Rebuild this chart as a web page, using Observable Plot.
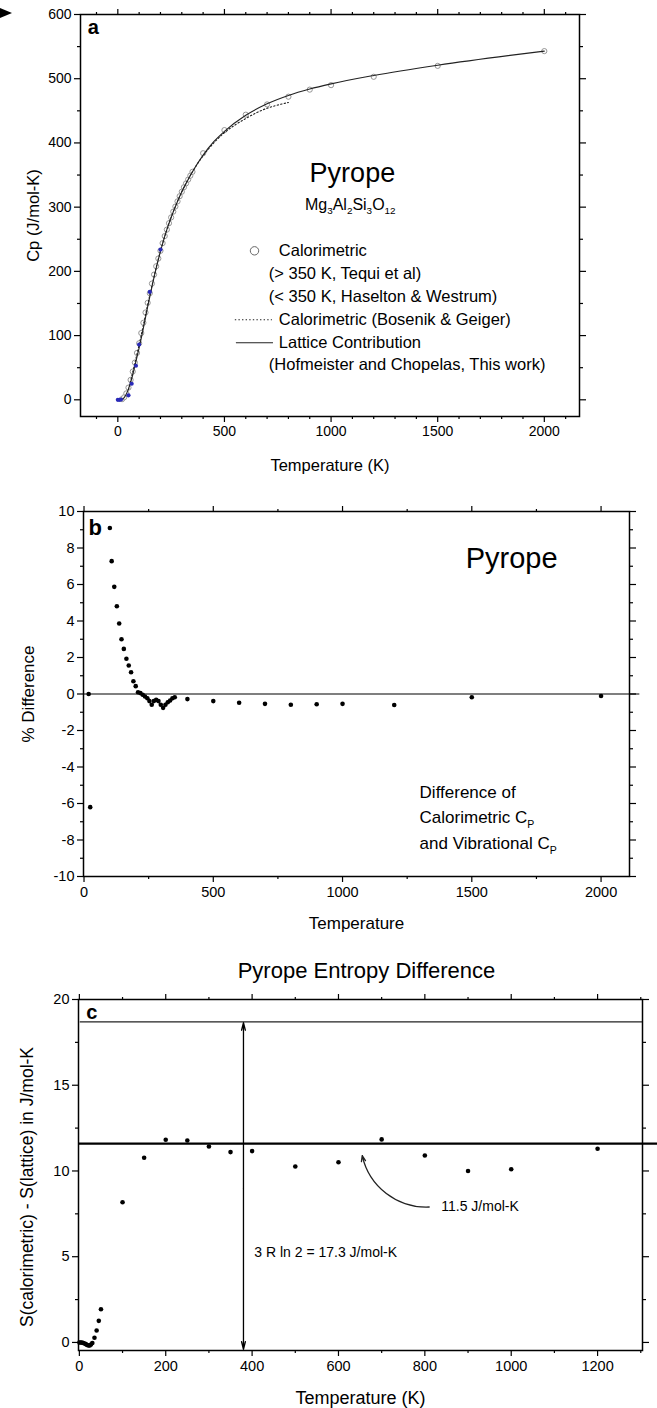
<!DOCTYPE html>
<html><head><meta charset="utf-8">
<script src="https://cdn.jsdelivr.net/npm/d3@7"></script>
<script src="https://cdn.jsdelivr.net/npm/@observablehq/plot@0.6"></script>
<style>
body{margin:0;background:#fff;}
#wrap{position:relative;width:657px;height:1408px;overflow:hidden;font-family:"Liberation Sans",Arial,Helvetica,sans-serif;}
.panel{position:absolute;left:0;}
#pointer{position:absolute;left:0;top:0;}
</style></head><body>
<div id="wrap">
<svg id="pointer" width="20" height="24"><polygon points="0,8 12,13 0,18" fill="#000"/></svg>
<div class="panel" id="pa" style="top:0px"></div>
<div class="panel" id="pb" style="top:480px"></div>
<div class="panel" id="pc" style="top:940px"></div>
</div>
<script>
// ---------- Panel a: heat capacity ----------
const latticeT  = [0, 10, 20, 30, 40, 50, 60, 70, 80, 90, 100, 120, 140, 160, 180, 200, 225, 250, 275, 300, 325, 350, 400, 450, 500, 600, 700, 800, 900, 1000, 1200, 1500, 2000];
const latticeCp = [0, 0.2, 1, 3.5, 9, 17, 27, 39, 53, 67, 81, 112, 145, 176, 205, 231, 260, 284, 305, 324, 340, 355, 381, 402, 418, 443, 461, 474, 484, 492, 505, 521, 543];
const bosenikT  = [50, 100, 150, 200, 250, 300, 350, 400, 450, 500, 550, 600, 650, 700, 750, 800];
const bosenikCp = [16, 86, 163, 232, 284, 324, 355, 380, 400, 416, 428, 438, 447, 454, 459, 463];
const calT  = [20, 30, 40, 50, 60, 70, 80, 90, 100, 110, 120, 130, 140, 150, 160, 170, 180, 190, 200, 210, 220, 230, 240, 250, 260, 270, 280, 290, 300, 310, 320, 330, 340, 350, 400, 500, 600, 700, 800, 900, 1000, 1200, 1500, 2000];
const calCp = [1, 4, 10, 19, 31, 44, 58, 73, 88, 104, 120, 136, 151, 166, 181, 195, 208, 220, 232, 244, 255, 265, 275, 284, 293, 301, 309, 317, 324, 331, 337, 343, 349, 355, 384, 420, 444, 460, 472, 483, 490, 503, 520, 543];
const blueT  = [0, 8, 15, 50, 65, 85, 100, 150, 200];
const blueCp = [0, 0, 0.5, 7, 25, 53, 86, 168, 234];
const aXMajor = [0, 500, 1000, 1500, 2000];
const aYMajor = [0, 100, 200, 300, 400, 500, 600];

// ---------- Panel b: % difference ----------
const diffT = [18, 24, 100, 107, 117, 127, 136, 145, 154, 164, 173, 182, 191, 200, 209, 218, 227, 236, 245, 253, 262, 270, 279, 288, 297, 306, 315, 324, 333, 342, 351, 400, 500, 600, 700, 800, 900, 1000, 1200, 1500, 2000];
const diffPct = [0, -6.2, 9.1, 7.28, 5.87, 4.81, 3.86, 3.0, 2.47, 1.93, 1.56, 1.19, 0.70, 0.43, 0.10, 0.05, -0.04, -0.14, -0.23, -0.39, -0.59, -0.39, -0.32, -0.39, -0.59, -0.76, -0.59, -0.45, -0.36, -0.23, -0.18, -0.28, -0.39, -0.48, -0.54, -0.59, -0.56, -0.54, -0.6, -0.18, -0.11];
const bXMajor = [0, 500, 1000, 1500, 2000];
const bYMajor = [-10, -8, -6, -4, -2, 0, 2, 4, 6, 8, 10];

// ---------- Panel c: entropy difference ----------
const entT = [0, 3, 6, 9, 12, 15, 18, 21, 24, 27, 30, 35, 40, 45, 50, 100, 150, 200, 250, 300, 350, 400, 500, 600, 700, 800, 900, 1000, 1200];
const entS = [0, 0, -0.01, -0.03, -0.06, -0.1, -0.15, -0.18, -0.18, -0.12, -0.03, 0.27, 0.7, 1.26, 1.94, 8.18, 10.77, 11.82, 11.78, 11.43, 11.1, 11.16, 10.26, 10.51, 11.84, 10.9, 10.0, 10.1, 11.3];
const entMean = 11.6;
const entTop = 18.7;
const cXMajor = [0, 200, 400, 600, 800, 1000, 1200];
const cYMajor = [0, 5, 10, 15, 20];

const FONT = '"Liberation Sans", Arial, Helvetica, sans-serif';
const blank = () => "";
const plain = d => String(d);

function axes(xMajor, xMinor, yMajor, yMinor, fs) {
  const common = {label: null, strokeWidth: 1.2};
  return [
    Plot.axisX({...common, ticks: xMajor, anchor: "bottom", tickSize: 6, tickPadding: 4, fontSize: fs, tickFormat: plain}),
    Plot.axisX({...common, ticks: xMinor, anchor: "bottom", tickSize: 3, tickFormat: blank}),
    Plot.axisX({...common, ticks: xMajor, anchor: "top", tickSize: 6, tickFormat: blank}),
    Plot.axisX({...common, ticks: xMinor, anchor: "top", tickSize: 3, tickFormat: blank}),
    Plot.axisY({...common, ticks: yMajor, anchor: "left", tickSize: 6, tickPadding: 3, fontSize: fs, tickFormat: plain}),
    Plot.axisY({...common, ticks: yMinor, anchor: "left", tickSize: 3, tickFormat: blank}),
    Plot.axisY({...common, ticks: yMajor, anchor: "right", tickSize: 6, tickFormat: blank}),
    Plot.axisY({...common, ticks: yMinor, anchor: "right", tickSize: 3, tickFormat: blank})
  ];
}

function applySubs(svg) {
  for (const t of svg.querySelectorAll("text")) {
    const s = t.textContent;
    if (!s.includes("_{")) continue;
    const holder = t.closest("[font-size]");
    const base = holder ? parseFloat(holder.getAttribute("font-size")) : 14;
    const shift = base * 0.3;
    const parts = s.split(/_\{([^}]*)\}/);
    t.textContent = "";
    let shifted = false;
    parts.forEach((p, i) => {
      if (p === "") return;
      const ts = document.createElementNS("http://www.w3.org/2000/svg", "tspan");
      ts.textContent = p;
      if (i % 2 === 1) { ts.setAttribute("font-size", base * 0.62); ts.setAttribute("dy", shift); shifted = true; }
      else if (shifted) { ts.setAttribute("dy", -shift); shifted = false; }
      t.appendChild(ts);
    });
  }
}

const zip = (xs, ys) => xs.map((x, i) => ({x, y: ys[i]}));
const xLabel = (t, dy, fs) => Plot.text([t], {frameAnchor: "bottom", dy, fontSize: fs, textAnchor: "middle", lineAnchor: "middle"});
const yLabel = (t, dx, dy, fs) => Plot.text([t], {frameAnchor: "left", dx, dy, rotate: -90, fontSize: fs, textAnchor: "middle", lineAnchor: "middle"});

// ================= Panel a =================
const aMinorX = d3.range(-100, 2200, 100).filter(v => v % 500 !== 0);
const aMinorY = d3.range(50, 600, 100);
const legendRows = [
  {x: 755, y: 232, t: "Calorimetric"},
  {x: 708, y: 196.4, t: "(> 350 K, Tequi et al)"},
  {x: 708, y: 160.5, t: "(< 350 K, Haselton & Westrum)"},
  {x: 755, y: 124.7, t: "Calorimetric (Bosenik & Geiger)"},
  {x: 755, y: 88.9, t: "Lattice Contribution"},
  {x: 708, y: 54.6, t: "(Hofmeister and Chopelas, This work)"}
];
const plotA = Plot.plot({
  width: 657, height: 480,
  marginLeft: 80, marginRight: 78, marginTop: 14, marginBottom: 64,
  x: {domain: [-175, 2165]}, y: {domain: [-26, 600]},
  style: {fontFamily: FONT, fontSize: "14px", color: "#000", background: "transparent", overflow: "visible"},
  marks: [
    ...axes(aXMajor, aMinorX, aYMajor, aMinorY, 14),
    Plot.frame({stroke: "#000", strokeWidth: 1.5}),
    Plot.dot(zip(calT, calCp), {x: "x", y: "y", r: 2.6, stroke: "#8a8a8a", fill: "white", strokeWidth: 0.9}),
    Plot.line(zip(bosenikT, bosenikCp), {x: "x", y: "y", stroke: "#222", strokeWidth: 1.1, strokeDasharray: "1.4,2.2", curve: "monotone-x"}),
    Plot.line(zip(latticeT, latticeCp), {x: "x", y: "y", stroke: "#222", strokeWidth: 1.1, curve: "monotone-x"}),
    Plot.dot(zip(blueT, blueCp), {x: "x", y: "y", r: 2.1, fill: "#2a2ab8", stroke: "none"}),
    Plot.text(["a"], {x: -141, y: 580, textAnchor: "start", fontSize: 20, fontWeight: "bold"}),
    Plot.text(["Pyrope"], {x: 1100, y: 352, fontSize: 27}),
    Plot.text(["Mg_{3}Al_{2}Si_{3}O_{12}"], {x: 1090, y: 304, fontSize: 16}),
    Plot.dot([{x: 641, y: 232}], {x: "x", y: "y", r: 4.2, stroke: "#666", fill: "none", strokeWidth: 1}),
    Plot.ruleY([124.7], {x1: 551, x2: 725, stroke: "#222", strokeWidth: 1.1, strokeDasharray: "1.4,2.2"}),
    Plot.ruleY([88.9], {x1: 556, x2: 730, stroke: "#222", strokeWidth: 1.1}),
    Plot.text(legendRows, {x: "x", y: "y", text: "t", textAnchor: "start", fontSize: 16.5}),
    xLabel("Temperature (K)", 49, 16.5),
    yLabel("Cp (J/mol-K)", -47, 0, 16.5)
  ]
});
applySubs(plotA);
document.getElementById("pa").appendChild(plotA);

// ================= Panel b =================
const bMinorX = [250, 750, 1250, 1750];
const bMinorY = d3.range(-9, 10, 2);
const bNote = [
  {x: 1298, y: -5.38, t: "Difference of"},
  {x: 1298, y: -6.75, t: "Calorimetric C_{P}"},
  {x: 1298, y: -8.2, t: "and Vibrational C_{P}"}
];
const plotB = Plot.plot({
  width: 657, height: 460,
  marginLeft: 83, marginRight: 28, marginTop: 31, marginBottom: 64,
  x: {domain: [-2, 2110]}, y: {domain: [-10, 10]},
  style: {fontFamily: FONT, fontSize: "14.5px", color: "#000", background: "transparent", overflow: "visible"},
  marks: [
    ...axes(bXMajor, bMinorX, bYMajor, bMinorY, 14.5),
    Plot.frame({stroke: "#000", strokeWidth: 1.5}),
    Plot.ruleY([0], {x1: -2, x2: 2150, stroke: "#000", strokeWidth: 1.2}),
    Plot.dot(zip(diffT, diffPct), {x: "x", y: "y", r: 2.3, fill: "#000", stroke: "none"}),
    Plot.text(["b"], {x: 17, y: 9.12, textAnchor: "start", fontSize: 22, fontWeight: "bold"}),
    Plot.text(["Pyrope"], {x: 1654, y: 7.42, fontSize: 29}),
    Plot.text(bNote, {x: "x", y: "y", text: "t", textAnchor: "start", fontSize: 17}),
    xLabel("Temperature", 47, 17),
    yLabel("% Difference", -55, 0, 17)
  ]
});
applySubs(plotB);
document.getElementById("pb").appendChild(plotB);

// ================= Panel c =================
const cMinorX = d3.range(100, 1400, 200);
const cMinorY = [2.5, 7.5, 12.5, 17.5];
const plotC = Plot.plot({
  width: 657, height: 468,
  marginLeft: 78, marginRight: 15, marginTop: 59, marginBottom: 58,
  x: {domain: [-2, 1304]}, y: {domain: [-0.47, 20]},
  style: {fontFamily: FONT, fontSize: "14.5px", color: "#000", background: "transparent", overflow: "visible"},
  marks: [
    ...axes(cXMajor, cMinorX, cYMajor, cMinorY, 14.5),
    Plot.frame({stroke: "#000", strokeWidth: 1.5}),
    Plot.ruleY([entTop], {x1: 2, x2: 1304, stroke: "#222", strokeWidth: 1.2}),
    Plot.ruleY([entMean], {x1: -2, x2: 1345, stroke: "#000", strokeWidth: 2.2}),
    Plot.arrow([{x: 380, y1: 9, y2: 18.65}, {x: 380, y1: 9, y2: -0.4}], {x1: "x", x2: "x", y1: "y1", y2: "y2", headLength: 9, headAngle: 28, strokeWidth: 1.3, stroke: "#000"}),
    Plot.arrow([{x1: 810, y1: 7.9, x2: 655, y2: 10.9}], {x1: "x1", y1: "y1", x2: "x2", y2: "y2", bend: 40, headLength: 7, headAngle: 40, strokeWidth: 1.3, stroke: "#222"}),
    Plot.dot(zip(entT, entS), {x: "x", y: "y", r: 2.3, fill: "#000", stroke: "none"}),
    Plot.text(["c"], {x: 16, y: 19.25, textAnchor: "start", fontSize: 20, fontWeight: "bold"}),
    Plot.text(["11.5 J/mol-K"], {x: 838, y: 7.9, textAnchor: "start", fontSize: 14}),
    Plot.text(["3 R ln 2 = 17.3 J/mol-K"], {x: 405, y: 5.26, textAnchor: "start", fontSize: 14}),
    Plot.text(["Pyrope Entropy Difference"], {frameAnchor: "top", dx: 6, dy: -29, fontSize: 22, textAnchor: "middle", lineAnchor: "middle"}),
    xLabel("Temperature (K)", 48, 18),
    yLabel("S(calorimetric) - S(lattice) in J/mol-K", -51, 12, 17.5)
  ]
});
document.getElementById("pc").appendChild(plotC);
</script>
</body></html>
